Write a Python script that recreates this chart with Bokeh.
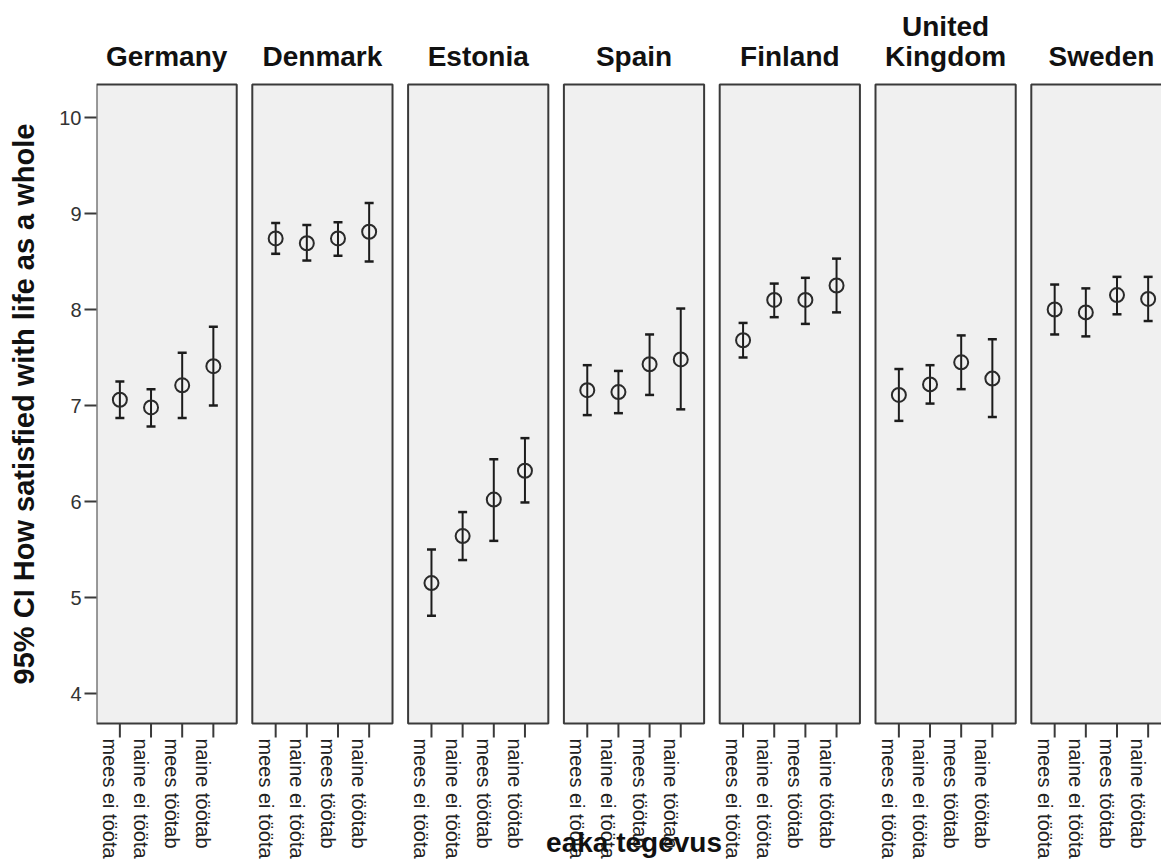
import math
from bokeh.plotting import figure
from bokeh.layouts import row
from bokeh.models import Range1d, FixedTicker, ColumnDataSource
from bokeh.core.properties import value
from bokeh.embed import file_html
from bokeh.resources import INLINE

# ---------------- data ----------------
countries = ["Germany", "Denmark", "Estonia", "Spain", "Finland", "United Kingdom", "Sweden"]
groups = ["mees ei tööta", "naine ei tööta", "mees töötab", "naine töötab"]
y_ticks = [4, 5, 6, 7, 8, 9, 10]
x_title = "eaka tegevus"
y_title = "95% CI How satisfied with life as a whole"

germany_mean = [7.06, 6.98, 7.21, 7.41]
germany_lo = [6.87, 6.78, 6.87, 7.00]
germany_hi = [7.25, 7.17, 7.55, 7.82]

denmark_mean = [8.74, 8.69, 8.74, 8.81]
denmark_lo = [8.58, 8.51, 8.56, 8.50]
denmark_hi = [8.90, 8.88, 8.91, 9.11]

estonia_mean = [5.15, 5.64, 6.02, 6.32]
estonia_lo = [4.81, 5.39, 5.59, 5.99]
estonia_hi = [5.50, 5.89, 6.44, 6.66]

spain_mean = [7.16, 7.14, 7.43, 7.48]
spain_lo = [6.90, 6.92, 7.11, 6.96]
spain_hi = [7.42, 7.36, 7.74, 8.01]

finland_mean = [7.68, 8.10, 8.10, 8.25]
finland_lo = [7.50, 7.92, 7.85, 7.97]
finland_hi = [7.86, 8.27, 8.33, 8.53]

uk_mean = [7.11, 7.22, 7.45, 7.28]
uk_lo = [6.84, 7.02, 7.17, 6.88]
uk_hi = [7.38, 7.42, 7.73, 7.69]

sweden_mean = [8.00, 7.97, 8.15, 8.11]
sweden_lo = [7.74, 7.72, 7.95, 7.88]
sweden_hi = [8.26, 8.22, 8.34, 8.34]

means = [germany_mean, denmark_mean, estonia_mean, spain_mean, finland_mean, uk_mean, sweden_mean]
lows = [germany_lo, denmark_lo, estonia_lo, spain_lo, finland_lo, uk_lo, sweden_lo]
highs = [germany_hi, denmark_hi, estonia_hi, spain_hi, finland_hi, uk_hi, sweden_hi]

# ---------------- layout / style constants ----------------
W, H = 1161, 861
LW = 50                  # width of the strip holding the y-axis title
FRAME_LEFT = 96          # px, left edge of first panel (page coordinates)
UNIT_PX = 31.16          # px per category step
PX_PER_Y = 96.0          # px per y unit
Y10_PX = 117             # screen row of y = 10
PITCH = 5                # data units per panel
PANEL_TOP = 10.344
PANEL_BOTTOM = 3.6875
TICK_LEN = 14 / PX_PER_Y
FONT = "Liberation Sans"
DARK = "#3a3a3a"

x_start = 0.25
x_end = x_start + (W - FRAME_LEFT) / UNIT_PX
y_range = Range1d(10 - (H - Y10_PX) / PX_PER_Y, 10 + Y10_PX / PX_PER_Y)

p = figure(width=W - LW, height=H, output_backend="svg", toolbar_location=None,
           x_range=Range1d(x_start, x_end), y_range=y_range,
           x_axis_location=None,
           min_border_left=FRAME_LEFT - LW, min_border_right=0, min_border_top=0,
           min_border_bottom=0)
p.outline_line_color = None
p.grid.visible = False
p.background_fill_color = "white"
p.border_fill_color = "white"

# panels
n = len(countries)
lefts = [i * PITCH + 0.25 for i in range(n)]
rights = [i * PITCH + 4.75 for i in range(n)]
p.quad(left=lefts, right=rights, bottom=[PANEL_BOTTOM] * n, top=[PANEL_TOP] * n,
       fill_color="#f0f0f0", line_color=DARK, line_width=2)

# points
xs, ms, los, his, labs = [], [], [], [], []
for ci in range(n):
    for gi in range(len(groups)):
        xs.append(ci * PITCH + gi + 1)
        ms.append(means[ci][gi])
        los.append(lows[ci][gi])
        his.append(highs[ci][gi])
        labs.append(groups[gi])

src = ColumnDataSource(dict(x=xs, m=ms, lo=los, hi=his, lab=labs,
                            tb=[PANEL_BOTTOM] * len(xs),
                            te=[PANEL_BOTTOM - TICK_LEN] * len(xs)))

# category ticks below each panel
p.segment(x0="x", y0="tb", x1="x", y1="te", source=src, line_color=DARK, line_width=2)
# category labels
p.text(x="x", y="te", text="lab", source=src, angle=-math.pi / 2, x_offset=1, y_offset=1,
       text_align="left", text_baseline="top", text_font=value(FONT),
       text_font_size="20px", text_color="#222222")

# error bars
p.segment(x0="x", y0="lo", x1="x", y1="hi", source=src, line_color="#1c1c1c", line_width=2)
p.scatter(x="x", y="hi", source=src, marker="dash", size=9, line_color="#1c1c1c", line_width=2.5)
p.scatter(x="x", y="lo", source=src, marker="dash", size=9, line_color="#1c1c1c", line_width=2.5)
p.scatter(x="x", y="m", source=src, marker="circle", size=14, fill_color=None,
          line_color="#2a2a2a", line_width=2)

# panel titles
centers = [i * PITCH + 2.5 for i in range(n)]
p.text(x=centers, y=[PANEL_TOP + 0.135] * n, text=[c.replace(" ", "\n") for c in countries],
       text_align="center", text_baseline="bottom", text_font=value(FONT),
       text_font_style="bold", text_font_size="28px", text_line_height=0.95,
       text_color="#111111")

# x axis title (overlapping the labels, as in the original)
p.text(x=[(centers[0] + centers[-1]) / 2], y=[2.45], text=[x_title],
       text_align="center", text_baseline="alphabetic", text_font=value(FONT),
       text_font_style="bold", text_font_size="28px", text_color="#111111")

# y axis
p.yaxis.ticker = FixedTicker(ticks=y_ticks)
p.yaxis.axis_line_color = None
p.yaxis.major_tick_line_color = DARK
p.yaxis.major_tick_line_width = 2
p.yaxis.major_tick_out = 12
p.yaxis.major_tick_in = 0
p.yaxis.minor_tick_line_color = None
p.yaxis.major_label_text_font = FONT
p.yaxis.major_label_text_font_size = "20px"
p.yaxis.major_label_text_color = "#333333"
p.yaxis.major_label_standoff = 3

# strip with the y-axis title, sharing the y scale, centred on the panels
t = figure(width=LW, height=H, output_backend="svg", toolbar_location=None,
           x_range=Range1d(0, LW), y_range=y_range,
           x_axis_location=None, y_axis_location=None,
           min_border_left=0, min_border_right=0, min_border_top=0, min_border_bottom=0)
t.outline_line_color = None
t.grid.visible = False
t.background_fill_color = "white"
t.border_fill_color = "white"
t.text(x=[23], y=[(PANEL_TOP + PANEL_BOTTOM) / 2], text=[y_title], angle=math.pi / 2,
       text_align="center", text_baseline="middle", text_font=value(FONT),
       text_font_style="bold", text_font_size="29px", text_color="#111111")

layout = row(t, p, spacing=0)
open("out.html", "w").write(file_html(layout, INLINE))
